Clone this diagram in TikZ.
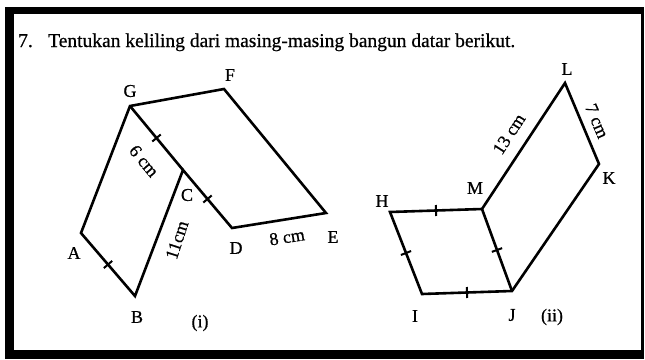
\documentclass[tikz,border=0pt]{standalone}
\usepackage{fontspec}
\setmainfont{Liberation Serif}[FakeBold=0.6]
\begin{document}
\begin{tikzpicture}[x=1pt,y=-1pt,
  edge/.style={line width=2.6pt, line join=miter},
  tick/.style={sloped, pos=0.5, inner sep=0pt, minimum width=2pt, minimum height=11pt, fill=black},
  lbl/.style={font=\fontsize{18}{20}\selectfont, inner sep=0pt},
  ttl/.style={font=\fontsize{19.5}{22}\selectfont, inner sep=0pt, anchor=base west}]
\useasboundingbox (0,0) rectangle (645,359);
\fill[white] (0,0) rectangle (645,359);
\fill[black] (5,7) rectangle (644,359);
\fill[white] (14,14) rectangle (641,350);
% title
\node[ttl] (num) at (18,47) {7.};
\node[ttl] (title) at (48,47) {Tentukan keliling dari masing-masing bangun datar berikut.};
% figure (i)
\coordinate (G) at (130,106);
\coordinate (F) at (224,89);
\coordinate (E) at (326,213);
\coordinate (D) at (232,228);
\coordinate (C) at (183,170);
\coordinate (B) at (135,296);
\coordinate (A) at (81,233);
\draw[edge] (G) -- (A) -- node[tick]{} (B) -- (C) -- node[tick]{} (D) -- (E) -- (F) -- cycle;
\draw[edge] (G) -- node[tick]{} (C);
\node[lbl] (lG) at (130,91) {G};
\node[lbl] (lF) at (230,75) {F};
\node[lbl] (lE) at (333,237) {E};
\node[lbl] (lD) at (236,248) {D};
\node[lbl] (lC) at (187,195) {C};
\node[lbl] (lA) at (74,253) {A};
\node[lbl] (lB) at (137,317) {B};
\node[lbl] (li) at (200,323) {(i)};
\node[lbl, rotate=-50] (l6) at (144,161) {6 cm};
\node[lbl, rotate=72] (l11) at (177,240) {11cm};
\node[lbl, rotate=9] (l8) at (287,237) {8 cm};
% figure (ii)
\coordinate (H) at (390,212);
\coordinate (M) at (482,209);
\coordinate (J) at (512,291);
\coordinate (I) at (422,294);
\coordinate (L) at (565,83);
\coordinate (K) at (599,164);
\draw[edge] (H) -- node[tick]{} (M) -- (L) -- (K) -- (J) -- node[tick]{} (I) -- node[tick]{} cycle;
\draw[edge] (M) -- node[tick]{} (J);
\node[lbl] (lH) at (382,201) {H};
\node[lbl] (lM) at (475,188) {M};
\node[lbl] (lI) at (415,316) {I};
\node[lbl] (lJ) at (512,315) {J};
\node[lbl] (lii) at (552,317) {(ii)};
\node[lbl] (lL) at (567,69) {L};
\node[lbl] (lK) at (609,178) {K};
\node[lbl, rotate=57] (l13) at (509,134) {13 cm};
\node[lbl, rotate=-67] (l7) at (597,121) {7 cm};
\end{tikzpicture}
\end{document}
